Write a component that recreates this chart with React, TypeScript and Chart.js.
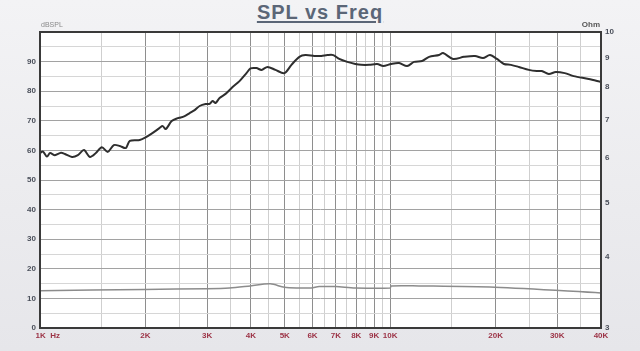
import { useEffect, useRef } from 'react';
import { Chart, registerables } from 'chart.js';
Chart.register(...registerables);

// SPL response (dB) vs frequency (Hz)
const splFreq = [1000,1020,1047,1068,1103,1148,1178,1234,1283,1335,1388,1444,1502,1562,1625,1690,1758,1805,1927,2004,2099,2197,2241,2286,2377,2473,2522,2589,2675,2765,2856,2971,3050,3111,3172,3257,3388,3548,3713,3887,3991,4151,4291,4464,4703,4989,5224,5505,5726,6075,6361,6615,6881,7156,7543,7950,8267,8713,9183,9552,10066,10608,11180,11706,12337,12916,13794,14159,15120,16250,17468,18408,19273,20177,21127,22120,23307,24888,26233,27102,28379,29715,31519,33428,36894,40000];
const splDb = [59.1,59.6,57.9,59.1,58.4,59.2,58.8,57.8,58.4,60.1,57.8,59.1,61.1,59.5,61.8,61.5,60.8,63.2,63.5,64.4,65.9,67.6,68.2,67.2,69.9,70.9,71.1,71.6,72.6,73.6,75.0,75.7,75.7,76.7,76.0,77.7,79.1,81.4,83.4,86.1,87.7,87.8,87.2,88.2,87.2,86.1,88.9,91.6,92.2,91.9,91.9,92.2,92.2,90.9,89.9,89.2,88.9,88.9,89.2,88.5,89.2,89.5,88.5,89.9,90.2,91.6,92.2,92.9,90.9,91.6,91.9,91.2,92.2,90.9,89.2,88.9,88.2,87.2,86.8,86.8,85.8,86.5,86.1,85.1,84.1,83.1];

// Impedance (Ohm) vs frequency (Hz)
const impFreq = [1000,1990,2990,3475,3990,4545,4990,5505,5950,6270,6980,7950,10000,10066,12085,19900,40000];
const impOhm = [3.49,3.51,3.52,3.53,3.56,3.59,3.54,3.53,3.53,3.55,3.55,3.53,3.53,3.56,3.56,3.54,3.46];

// Axis ticks
const gridFreqs = [1000,1500,2000,2500,3000,3500,4000,4500,5000,5500,6000,6500,7000,7500,8000,8500,9000,9500,10000,15000,20000,25000,30000,35000,40000];
const labelFreqs = [1000,2000,3000,4000,5000,6000,7000,8000,9000,10000,20000,30000,40000];
const freqLabels = ['       1K  Hz','2K','3K','4K','5K','6K','7K','8K','9K','10K','20K','30K','40K'];
const dbTicks = [0,5,10,15,20,25,30,35,40,45,50,55,60,65,70,75,80,85,90,95,100];
const ohmTicks = [3,4,5,6,7,8,9,10];

const framePlugin = {
  id: 'frame',
  beforeDraw(chart: any) {
    const { ctx, chartArea: a } = chart;
    ctx.save();
    ctx.fillStyle = '#ffffff';
    ctx.fillRect(a.left, a.top, a.right - a.left, a.bottom - a.top);
    ctx.restore();
  },
  afterDraw(chart: any) {
    const { ctx, chartArea: a } = chart;
    ctx.save();
    ctx.strokeStyle = '#3a3a3a';
    ctx.lineWidth = 2;
    ctx.strokeRect(a.left, a.top, a.right - a.left, a.bottom - a.top);
    ctx.font = '7px Arial';
    ctx.fillStyle = '#8a8a8a';
    ctx.textAlign = 'left';
    ctx.textBaseline = 'bottom';
    ctx.fillText('dBSPL', a.left + 1, a.top - 3);
    ctx.font = 'bold 8px Arial';
    ctx.fillStyle = '#555';
    ctx.textAlign = 'right';
    ctx.fillText('Ohm', a.right - 1, a.top - 3);
    ctx.restore();
  },
};

export default function App() {
  const ref = useRef<HTMLCanvasElement>(null);
  useEffect(() => {
    if (!ref.current) return;
    const chart = new Chart(ref.current, {
      type: 'line',
      data: {
        datasets: [
          {
            label: 'SPL',
            data: splFreq.map((f, i) => ({ x: f, y: splDb[i] })),
            borderColor: '#2e2e2e',
            borderWidth: 2,
            pointRadius: 0,
            tension: 0.3,
            yAxisID: 'y',
          },
          {
            label: 'Impedance',
            data: impFreq.map((f, i) => ({ x: f, y: impOhm[i] })),
            borderColor: '#8c8c8c',
            borderWidth: 1.5,
            pointRadius: 0,
            tension: 0.3,
            yAxisID: 'y1',
          },
        ],
      },
      options: {
        animation: false,
        responsive: true,
        maintainAspectRatio: false,
        layout: { padding: { top: 32, left: 0, right: 0, bottom: 0 } },
        plugins: { legend: { display: false }, tooltip: { enabled: false }, title: { display: false } },
        scales: {
          x: {
            type: 'logarithmic',
            min: 1000,
            max: 40000,
            afterBuildTicks: (s: any) => { s.ticks = gridFreqs.map((v) => ({ value: v })); },
            afterFit: (s: any) => { s.height = 23; },
            border: { display: false },
            grid: {
              drawTicks: false,
              color: (c: any) => (labelFreqs.includes(c.tick?.value) ? '#8e8e8e' : '#cfcfcf'),
              lineWidth: 1,
            },
            ticks: {
              autoSkip: false,
              maxRotation: 0,
              minRotation: 0,
              padding: 3,
              color: '#9c3346',
              font: { family: 'Arial', size: 8, weight: 'bold' },
              callback: (v: any) => {
                const i = labelFreqs.indexOf(Number(v));
                return i >= 0 ? freqLabels[i] : '';
              },
            },
          },
          y: {
            position: 'left',
            min: 0,
            max: 100,
            afterBuildTicks: (s: any) => { s.ticks = dbTicks.map((v) => ({ value: v })); },
            afterFit: (s: any) => { s.width = 40; },
            border: { display: false },
            grid: {
              drawTicks: false,
              color: (c: any) => (c.tick?.value % 10 === 0 ? '#a2a2a2' : '#d6d6d6'),
              lineWidth: 1,
            },
            ticks: {
              padding: 4,
              color: '#4a4f5a',
              font: { family: 'Arial', size: 8, weight: 'bold' },
              callback: (v: any) => (Number(v) % 10 === 0 && Number(v) < 100 ? String(v) : ''),
            },
          },
          y1: {
            type: 'logarithmic',
            position: 'right',
            min: 3,
            max: 10,
            afterBuildTicks: (s: any) => { s.ticks = ohmTicks.map((v) => ({ value: v })); },
            afterFit: (s: any) => { s.width = 39; },
            border: { display: false },
            grid: { display: false, drawTicks: false },
            ticks: {
              padding: 4,
              color: '#4a4f5a',
              font: { family: 'Arial', size: 8, weight: 'bold' },
              callback: (v: any) => String(v),
            },
          },
        },
      },
      plugins: [framePlugin],
    } as any);
    return () => chart.destroy();
  }, []);

  return (
    <div
      style={{
        position: 'fixed',
        left: 0,
        top: 0,
        width: 640,
        height: 351,
        background: 'linear-gradient(180deg, #f3f3f5 0%, #ebebee 60%, #e6e6ea 100%)',
        overflow: 'hidden',
      }}
    >
      <div
        style={{
          position: 'absolute',
          left: 0,
          top: 1,
          width: 640,
          textAlign: 'center',
          fontFamily: 'Arial, "Liberation Sans", sans-serif',
          fontWeight: 'bold',
          fontSize: 20,
          letterSpacing: 1,
          color: '#5b6677',
          textDecoration: 'underline',
          textDecorationThickness: 2,
          textUnderlineOffset: 2,
          lineHeight: '22px',
        }}
      >
        SPL vs Freq
      </div>
      <div style={{ position: 'absolute', left: 0, top: 0, width: 640, height: 351 }}>
        <canvas ref={ref} />
      </div>
    </div>
  );
}
